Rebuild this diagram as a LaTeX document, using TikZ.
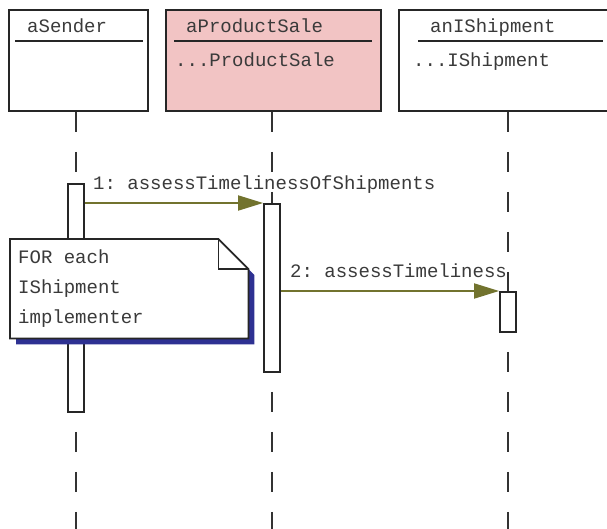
\documentclass[tikz,border=0pt]{standalone}
\usepackage{fontspec}
\setmonofont{Liberation Mono}
\usetikzlibrary{arrows.meta,calc,positioning}
\definecolor{salepink}{HTML}{F2C4C4}
\definecolor{msgolive}{HTML}{72732E}
\definecolor{noteblue}{HTML}{2E3192}
\definecolor{inkgray}{HTML}{3A3A3A}
\tikzset{
    objbox/.style={draw=black!85, line width=1.8pt, minimum height=101pt, anchor=north west, inner sep=0pt},
    actbox/.style={draw=black!85, fill=white, line width=1.8pt, minimum width=16pt, anchor=north, inner sep=0pt},
    lifeline/.style={draw=black!80, line width=1.8pt, dash pattern=on 20pt off 20pt},
    rule/.style={draw=black!85, line width=1.8pt},
    msg/.style={draw=msgolive, line width=1.8pt, -{Triangle[length=25pt,width=15pt,fill=msgolive]}},
    txt/.style={text=inkgray, font=\ttfamily\fontsize{19}{23}\selectfont, inner sep=0pt, anchor=base west}
}

\begin{document}
\begin{tikzpicture}[x=1pt, y=-1pt]
    \clip (0,0) rectangle (607,529);

    % Draw object heads.
    \node[objbox, minimum width=139pt] (sender) at (8,9) {};
    \node[objbox, minimum width=215pt, fill=salepink] (sale) at (165,9) {};
    \node[objbox, minimum width=218pt] (ship) at (398,9) {};
    \draw[rule] (15,41) -- (143,41);
    \draw[rule] (174,41) -- (372,41);
    \draw[rule] (418,41) -- (603,41);
    \node[txt] (senderName) at (27,33) {aSender};
    \node[txt] (saleName) at (186,33) {aProductSale};
    \node[txt] (saleType) at (175,67) {...ProductSale};
    \node[txt] (shipName) at (430,33) {anIShipment};
    \node[txt] (shipType) at (413,67) {...IShipment};

    % Draw activations.
    \coordinate (senderLine) at (76,529);
    \coordinate (saleLine) at (272,529);
    \coordinate (shipLine) at (508,529);
    \draw[lifeline] (senderLine |- sender.south) -- (senderLine);
    \draw[lifeline] (saleLine |- sale.south) -- (saleLine);
    \draw[lifeline] (shipLine |- ship.south) -- (shipLine);
    \node[actbox, minimum height=228pt] (act1) at (76,183) {};
    \node[actbox, minimum height=168pt] (act2) at (272,203) {};
    \node[actbox, minimum height=40pt] (act3) at (508,291) {};

    % Draw messages.
    \draw[msg] (act1.east |- act2.north) -- (act2.north west);
    \node[txt] (msg1) at (93,190) {1: assessTimelinessOfShipments};
    \draw[msg] (act2.east |- act3.north) -- (act3.north west);
    \node[txt] (msg2) at (290,277) {2: assessTimeliness};

    % Draw note.
    \node[minimum width=238pt, minimum height=99pt, anchor=north west, inner sep=0pt] (note) at (10,239) {};
    \fill[noteblue] ($(note.north west)+(6,6)$) -- ($(note.north east)+(-24,6)$)
        -- ($(note.north east)+(6,36)$) -- ($(note.south east)+(6,6)$)
        -- ($(note.south west)+(6,6)$) -- cycle;
    \draw[rule, fill=white, line join=miter] (note.north west) -- ($(note.north east)+(-30,0)$)
        -- ($(note.north east)+(0,30)$) -- (note.south east) -- (note.south west) -- cycle;
    \draw[rule] ($(note.north east)+(-30,0)$) |- ($(note.north east)+(0,30)$);
    \foreach \t [count=\i] in {FOR each, IShipment, implementer}
        \node[txt] (note\i) at (18,233+30*\i) {\t};
\end{tikzpicture}
\end{document}
